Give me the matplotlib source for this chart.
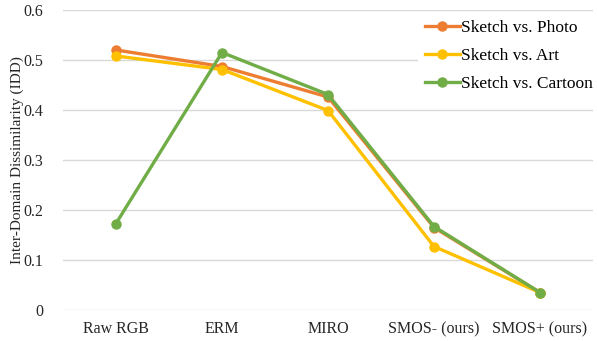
import numpy as np
import matplotlib.pyplot as plt

plt.rcParams['font.family'] = ['Liberation Serif', 'DejaVu Serif']

methods = ['Raw RGB', 'ERM', 'MIRO', 'SMOS- (ours)', 'SMOS+ (ours)']
photo = [0.520, 0.487, 0.426, 0.165, 0.035]
art = [0.508, 0.481, 0.399, 0.127, 0.035]
cartoon = [0.173, 0.515, 0.431, 0.167, 0.035]

fig = plt.figure(figsize=(5.97, 3.41), dpi=100)
ax = fig.add_axes([63/597, 1-310/341, 530/597, 300/341])

x = np.arange(len(methods))
ax.plot(x, photo, color='#ED7D31', lw=2.4, marker='o', ms=6.5, label='Sketch vs. Photo')
ax.plot(x, art, color='#FFC000', lw=2.4, marker='o', ms=6.5, label='Sketch vs. Art')
ax.plot(x, cartoon, color='#70AD47', lw=2.4, marker='o', ms=6.5, label='Sketch vs. Cartoon')

ax.set_xlim(-0.5, len(methods) - 0.5)
ax.set_ylim(0, 0.6)
ax.set_yticks(np.arange(0, 0.61, 0.1))
ax.set_yticklabels(['0', '0.1', '0.2', '0.3', '0.4', '0.5', '0.6'])
ax.set_xticks(x)
ax.set_xticklabels(methods)
ax.tick_params(length=0, labelsize=11.5, colors='#262626', pad=8)
ax.tick_params(axis='y', pad=14)
ax.grid(axis='y', color='#D9D9D9', lw=1)
ax.set_axisbelow(True)
for s in ax.spines.values():
    s.set_visible(False)
ax.set_ylabel('Inter-Domain Dissimilarity (IDD)', fontsize=11, color='#262626', labelpad=0)

leg = ax.legend(loc='upper right', bbox_to_anchor=(1.03, 1.02), frameon=True,
                edgecolor='none', facecolor='white', framealpha=1, fancybox=False,
                fontsize=12.5, handlelength=2.0, handletextpad=0.1, labelspacing=0.7)

fig.savefig('out.png', dpi=100)
